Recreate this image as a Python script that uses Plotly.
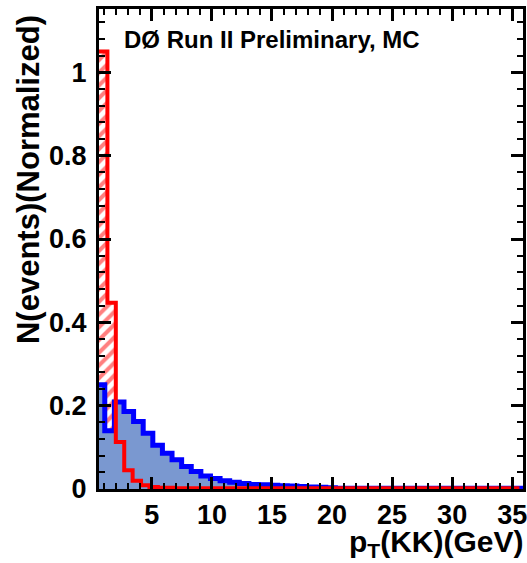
import numpy as np
import plotly.graph_objects as go

# Histogram binning (GeV)
red_lo, red_width = 0.6, 0.7
blue_lo, blue_width = 0.28, 0.8

# Normalized event counts per bin
red_values = [1.05, 0.447, 0.113, 0.045, 0.02, 0.009, 0.005, 0.003, 0.003, 0.002,
              0.002, 0.002, 0.002, 0.002, 0.002, 0.002, 0.002, 0.002, 0.002, 0.002,
              0.002, 0.002, 0.002, 0.002, 0.002, 0.002, 0.002, 0.002, 0.002, 0.002,
              0.002, 0.002, 0.002, 0.002, 0.002, 0.002, 0.002, 0.002, 0.002, 0.002,
              0.002, 0.002, 0.002, 0.002, 0.002, 0.002, 0.002, 0.002, 0.002, 0.002]
blue_values = [0.25, 0.14, 0.209, 0.186, 0.162, 0.134, 0.105, 0.086, 0.07, 0.054,
               0.042, 0.031, 0.025, 0.02, 0.016, 0.013, 0.011, 0.01, 0.009, 0.008,
               0.007, 0.006, 0.005, 0.004, 0.003, 0.002, 0.002, 0.002, 0.002, 0.002,
               0.002, 0.002, 0.002, 0.002, 0.002, 0.002, 0.002, 0.002, 0.002, 0.002,
               0.002, 0.002, 0.002, 0.002, 0.002]

x_ticks = [5, 10, 15, 20, 25, 30, 35]
y_ticks = [0, 0.2, 0.4, 0.6, 0.8, 1]
y_tick_text = ["0", "0.2", "0.4", "0.6", "0.8", "1"]

x_range = [0.6, 35.9]
y_range = [0, 1.152]


def step_xy(lo, width, vals):
    edges = lo + width * np.arange(len(vals) + 1)
    xs = list(edges[:-1]) + [edges[-1]]
    ys = list(vals) + [vals[-1]]
    return edges, xs, ys


red_edges, red_x, red_y = step_xy(red_lo, red_width, red_values)
blue_edges, blue_x, blue_y = step_xy(blue_lo, blue_width, blue_values)

fig = go.Figure()

# blue: filled step histogram
fig.add_trace(go.Scatter(
    x=blue_x, y=blue_y, mode="lines", line_shape="hv",
    line=dict(color="#0000ff", width=5),
    fill="tozeroy", fillcolor="#7a98d0",
    hoverinfo="skip", showlegend=False,
))

# red: hatched step histogram
red_centers = (red_edges[:-1] + red_edges[1:]) / 2
fig.add_trace(go.Bar(
    x=red_centers, y=red_values, width=red_width,
    marker=dict(color="rgba(0,0,0,0)", line=dict(width=0),
                pattern=dict(shape="/", fgcolor="#ff0000", size=9, solidity=0.45,
                             fillmode="overlay")),
    hoverinfo="skip", showlegend=False,
))
fig.add_trace(go.Scatter(
    x=red_x, y=red_y, mode="lines", line_shape="hv",
    line=dict(color="#ff0000", width=4),
    hoverinfo="skip", showlegend=False,
))

font_family = "Liberation Sans, Arial, sans-serif"
tick_font = dict(size=27, family=font_family, weight="bold")

fig.update_layout(
    width=527, height=563,
    margin=dict(l=99, r=4, t=9, b=74),
    paper_bgcolor="white", plot_bgcolor="white",
    template="none",
    bargap=0,
    font=dict(family=font_family, color="black"),
    xaxis=dict(
        range=x_range, tickmode="array", tickvals=x_ticks,
        ticks="inside", ticklen=12, tickwidth=3, tickcolor="black",
        minor=dict(tickmode="linear", tick0=0, dtick=1, ticks="inside",
                   ticklen=6, tickwidth=2, tickcolor="black"),
        showline=True, linecolor="black", linewidth=3, mirror="allticks",
        layer="above traces",
        showgrid=False, zeroline=False,
        tickfont=tick_font, ticklabeloverflow="allow",
    ),
    yaxis=dict(
        range=y_range, tickmode="array", tickvals=y_ticks, ticktext=y_tick_text,
        ticks="inside", ticklen=12, tickwidth=3, tickcolor="black",
        minor=dict(tickmode="linear", tick0=0, dtick=0.04, ticks="inside",
                   ticklen=6, tickwidth=2, tickcolor="black"),
        showline=True, linecolor="black", linewidth=3, mirror="allticks",
        layer="above traces",
        showgrid=False, zeroline=False,
        tickfont=tick_font, ticklabeloverflow="allow",
        ticklabelstandoff=4,
    ),
    annotations=[
        dict(text="DØ Run II Preliminary, MC", xref="paper", yref="paper",
             x=0.054, y=0.937, xanchor="left", yanchor="middle", showarrow=False,
             font=dict(size=24, family=font_family, weight="bold")),
        dict(text="N(events)(Normalized)", xref="paper", yref="paper",
             x=-0.166, y=0.645, xanchor="center", yanchor="middle", textangle=-90,
             showarrow=False, font=dict(size=31, family=font_family, weight="bold")),
        dict(text="p<sub>T</sub>(KK)(GeV)", xref="paper", yref="paper",
             x=1.005, y=-0.1125, xanchor="right", yanchor="middle", showarrow=False,
             font=dict(size=30, family=font_family, weight="bold")),
    ],
)

fig.write_html("out.html")
